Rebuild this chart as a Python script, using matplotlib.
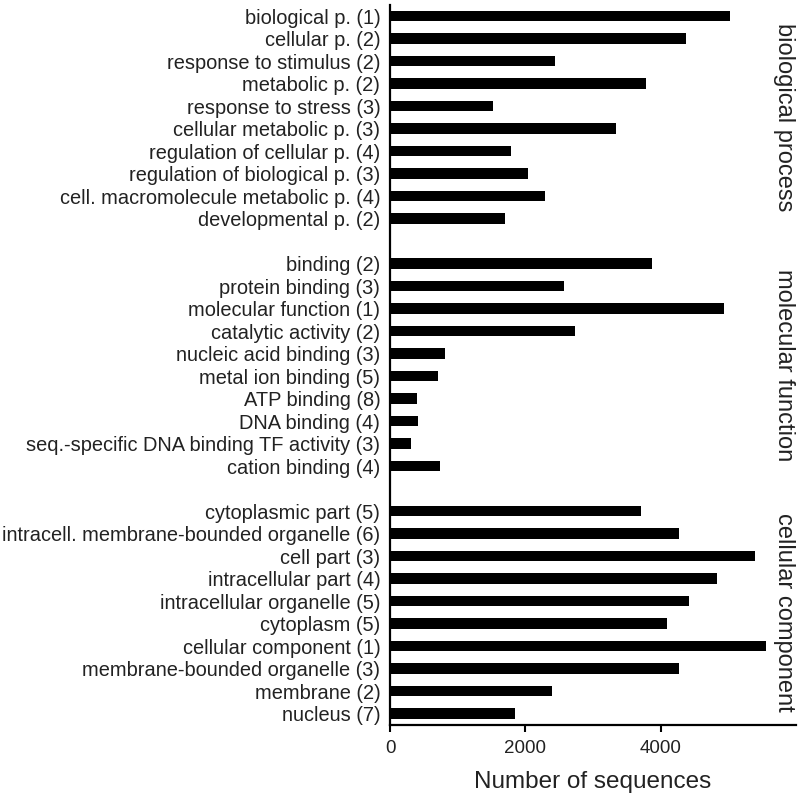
import matplotlib
matplotlib.use("Agg")
import matplotlib.pyplot as plt
import numpy as np

plt.rcParams["font.family"] = ["Liberation Sans", "DejaVu Sans"]

# GO term categories and counts
bio_terms = [
    "biological p. (1)", "cellular p. (2)", "response to stimulus (2)",
    "metabolic p. (2)", "response to stress (3)", "cellular metabolic p. (3)",
    "regulation of cellular p. (4)", "regulation of biological p. (3)",
    "cell. macromolecule metabolic p. (4)", "developmental p. (2)",
]
bio_counts = [5030, 4380, 2440, 3785, 1525, 3345, 1795, 2040, 2285, 1700]

mol_terms = [
    "binding (2)", "protein binding (3)", "molecular function (1)",
    "catalytic activity (2)", "nucleic acid binding (3)", "metal ion binding (5)",
    "ATP binding (8)", "DNA binding (4)",
    "seq.-specific DNA binding TF activity (3)", "cation binding (4)",
]
mol_counts = [3865, 2575, 4930, 2735, 810, 710, 395, 410, 315, 735]

cell_terms = [
    "cytoplasmic part (5)", "intracell. membrane-bounded organelle (6)",
    "cell part (3)", "intracellular part (4)", "intracellular organelle (5)",
    "cytoplasm (5)", "cellular component (1)", "membrane-bounded organelle (3)",
    "membrane (2)", "nucleus (7)",
]
cell_counts = [3715, 4265, 5400, 4835, 4425, 4095, 5550, 4270, 2395, 1850]

group_names = ["biological process", "molecular function", "cellular component"]
groups = [(bio_terms, bio_counts), (mol_terms, mol_counts), (cell_terms, cell_counts)]

fig, ax = plt.subplots(figsize=(8, 8), dpi=100)
fig.subplots_adjust(left=0.4875, right=0.995, top=0.994, bottom=0.094)

labels = []
positions = []
pos = 0
group_centers = []
for terms, counts in groups:
    ys = np.arange(pos, pos + len(terms))
    ax.barh(ys, counts, height=0.45, color="black")
    labels.extend(terms)
    positions.extend(ys)
    group_centers.append(ys.mean())
    pos += len(terms) + 1
last = positions[-1]

for name, yc in zip(group_names, group_centers):
    ax.text(0.97, yc, name, rotation=-90, ha="center", va="center",
            fontsize=17, color="#222222",
            transform=ax.get_yaxis_transform())

ax.set_yticks(positions)
ax.set_yticklabels(labels, fontsize=14.4, color="#222222")
ax.set_ylim(last + 0.5, -0.5)
ax.set_xlim(0, 6000)
ax.set_xticks([0, 2000, 4000])
ax.tick_params(axis="y", length=0, pad=7)
ax.tick_params(axis="x", length=5, width=1.5, labelsize=13.5,
               labelcolor="#222222", pad=6)

for side in ["top", "right"]:
    ax.spines[side].set_visible(False)
for side in ["left", "bottom"]:
    ax.spines[side].set_linewidth(1.6)

ax.set_xlabel("Number of sequences", fontsize=17.5, color="#222222", labelpad=10)

fig.savefig("out.png", dpi=100)
